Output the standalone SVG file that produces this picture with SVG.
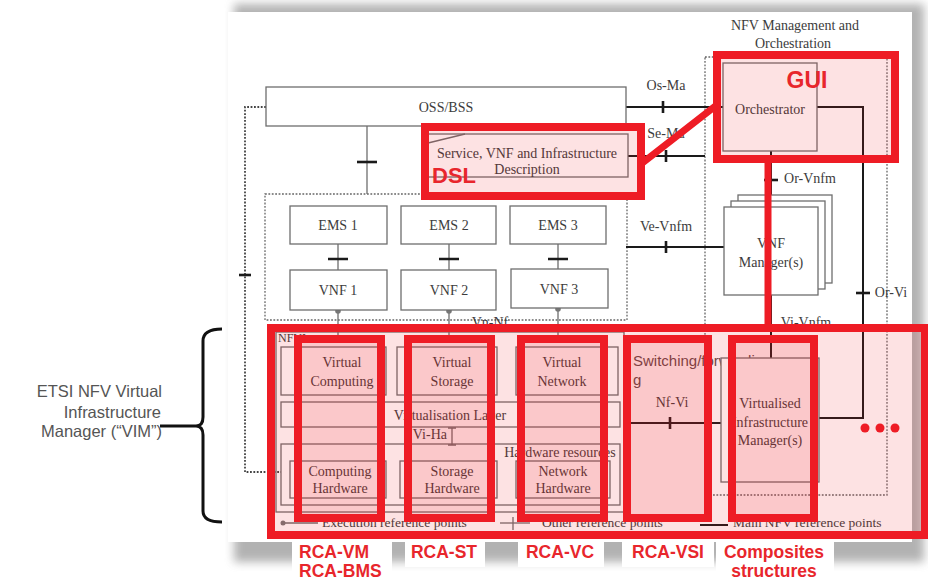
<svg xmlns="http://www.w3.org/2000/svg" width="928" height="583" viewBox="0 0 928 583">
<defs>
<filter id="sh" x="-5%" y="-5%" width="110%" height="110%"><feGaussianBlur stdDeviation="5"/></filter>
<style>
.box{fill:#fff;stroke:#6e6e6e;stroke-width:1.3}
.ob{fill:none;stroke:#6e6e6e;stroke-width:1.3}
.dot{fill:none;stroke:#444;stroke-width:1.8;stroke-dasharray:1.8 1.6}
.t{font-family:"Liberation Serif","Times New Roman",serif;font-size:14px;fill:#3c3c3c;text-anchor:middle}
.ts{font-family:"Liberation Serif","Times New Roman",serif;font-size:13.5px;fill:#3c3c3c}
.ln{stroke:#1a1a1a;stroke-width:2;fill:none}
.gl{stroke:#6e6e6e;stroke-width:1.3;fill:none}
.tk{stroke:#1a1a1a;stroke-width:2.6}
.red{fill:rgba(240,30,36,0.13);stroke:#ee1c25;stroke-width:8}
.rl{font-family:"Liberation Sans",Arial,sans-serif;font-weight:bold;font-size:17.5px;fill:#e8262c}
.lt{font-family:"Liberation Sans",Arial,sans-serif;font-size:16.5px;fill:#555;text-anchor:end}
.sw{font-family:"Liberation Sans",Arial,sans-serif;font-size:15px;fill:#5e4c4c}
</style>
</defs>
<rect width="928" height="583" fill="#fff"/>
<g id="paper">
<rect x="234" y="4" width="690" height="558" fill="#808080" opacity="0.6" filter="url(#sh)"/>
<rect x="228" y="12" width="684" height="530" fill="#fff"/>
<rect x="292" y="541" width="100" height="42" fill="#fff"/>
<rect x="405" y="541" width="80" height="26" fill="#fff"/>
<rect x="518" y="541" width="86" height="26" fill="#fff"/>
<rect x="622" y="541" width="92" height="26" fill="#fff"/>
<rect x="716" y="541" width="118" height="42" fill="#fff"/>
</g>
<g id="vim-label">
<text class="lt" x="162" y="397">ETSI NFV Virtual</text>
<text class="lt" x="161" y="418">Infrastructure</text>
<text class="lt" x="162" y="437">Manager (“VIM”)</text>
<path d="M222,329 Q203,329 203,341 L203,417 Q203,426 196,426 Q203,426 203,435 L203,511 Q203,522 222,522 M160,426 H197" fill="none" stroke="#111" stroke-width="3"/>
</g>
<g id="containers">
<rect class="dot" x="705" y="57" width="182" height="438" style="stroke-width:1.3;stroke:#666"/>
<rect class="dot" x="265" y="194" width="362" height="126" style="stroke-width:1.3;stroke:#666"/>
<text class="t" x="795" y="30">NFV Management and</text>
<text class="t" x="793" y="48">Orchestration</text>
</g>
<g id="connectors">
<path class="dot" d="M266,107 H245 V472 H281"/>
<path class="tk" d="M239,275 H251"/>
<path class="ln" d="M626,107 H723"/><path class="tk" d="M663,101 V113"/>
<path class="ln" d="M628,156 H705"/><path class="tk" d="M666,150 V162"/>
<path class="ln" d="M626,247 H724"/><path class="tk" d="M666,241 V253"/>
<path class="ln" d="M817,107 H863 V418 H819"/><path class="tk" d="M856,293 H870"/>
<path class="ln" d="M771,151 V195"/><path class="tk" d="M764,180 H778"/>
<path class="ln" d="M771,295 V358"/>
<path class="gl" d="M367,126 V194"/><path class="tk" d="M357,162 H377"/>
<path class="gl" d="M338,244 V270 M449,244 V270 M558,244 V269"/>
<path class="tk" d="M328,259 H348 M439,259 H459 M548,259 H568"/>
<path class="gl" d="M338,310 V336 M449,310 V336 M558,308 V336"/>
<circle cx="338" cy="311" r="2.8" fill="#777"/><circle cx="449" cy="311" r="2.8" fill="#777"/><circle cx="558" cy="309" r="2.8" fill="#777"/>
<path class="ln" d="M630,423 H722"/><path class="tk" d="M670,417 V429"/>
<path class="gl" d="M452,428 V445 M448,428 H456 M448,445 H456"/>
<text class="t" x="666" y="90">Os-Ma</text>
<text class="t" x="666" y="138">Se-Ma</text>
<text class="t" x="666" y="231">Ve-Vnfm</text>
<text class="t" x="810" y="183">Or-Vnfm</text>
<text class="t" x="891" y="297">Or-Vi</text>
<text class="t" x="806" y="327">Vi-Vnfm</text>
<text class="t" x="490" y="327">Vn-Nf</text>
<text class="t" x="672" y="407">Nf-Vi</text>
<text class="t" x="447" y="439" style="text-anchor:end">Vi-Ha</text>
</g>
<g id="oss-bss"><rect class="box" x="266" y="87" width="360" height="39"/><text class="t" x="446" y="112">OSS/BSS</text></g>
<g id="service-description"><rect class="box" x="428" y="134" width="200" height="43"/><path class="gl" d="M428,143 L465,134"/><text class="t" x="527" y="158">Service, VNF and Infrastructure</text><text class="t" x="527" y="174">Description</text></g>
<g id="ems1"><rect class="box" x="290" y="206" width="97" height="38"/><text class="t" x="338" y="230">EMS 1</text></g>
<g id="ems2"><rect class="box" x="401" y="206" width="95" height="38"/><text class="t" x="449" y="230">EMS 2</text></g>
<g id="ems3"><rect class="box" x="510" y="206" width="96" height="38"/><text class="t" x="558" y="230">EMS 3</text></g>
<g id="vnf1"><rect class="box" x="290" y="270" width="97" height="40"/><text class="t" x="338" y="295">VNF 1</text></g>
<g id="vnf2"><rect class="box" x="401" y="270" width="95" height="40"/><text class="t" x="449" y="295">VNF 2</text></g>
<g id="vnf3"><rect class="box" x="511" y="269" width="97" height="39"/><text class="t" x="559" y="294">VNF 3</text></g>
<g id="orchestrator"><rect class="box" x="723" y="63" width="94" height="88"/><text class="t" x="770" y="114">Orchestrator</text></g>
<g id="vnf-managers">
<rect class="box" x="738" y="195" width="94" height="88"/>
<rect class="box" x="731" y="201" width="94" height="88"/>
<rect class="box" x="724" y="207" width="94" height="88"/>
<text class="t" x="771" y="248">VNF</text><text class="t" x="771" y="267">Manager(s)</text>
</g>
<g id="nfvi">
<rect class="ob" x="276" y="332" width="348" height="180"/>
<text class="ts" x="278" y="342" style="font-size:12px">NFVI</text>
<rect class="ob" x="281" y="347" width="105" height="48"/><text class="t" x="342" y="367">Virtual</text><text class="t" x="342" y="386">Computing</text>
<rect class="ob" x="397" y="347" width="100" height="48"/><text class="t" x="452" y="367">Virtual</text><text class="t" x="452" y="386">Storage</text>
<rect class="ob" x="516" y="347" width="102" height="48"/><text class="t" x="562" y="367">Virtual</text><text class="t" x="562" y="386">Network</text>
<rect class="ob" x="281" y="402" width="339" height="25"/><text class="t" x="450" y="420">Virtualisation Layer</text>
<rect class="ob" x="281" y="444" width="339" height="61"/><text class="t" x="560" y="457">Hardware resources</text>
<rect class="ob" x="290" y="461" width="96" height="37"/><text class="t" x="340" y="476">Computing</text><text class="t" x="340" y="493">Hardware</text>
<rect class="ob" x="400" y="461" width="97" height="37"/><text class="t" x="452" y="476">Storage</text><text class="t" x="452" y="493">Hardware</text>
<rect class="ob" x="516" y="461" width="94" height="37"/><text class="t" x="563" y="476">Network</text><text class="t" x="563" y="493">Hardware</text>
</g>
<g id="switching"><text class="sw" x="633" y="366">Switching/forwardin</text><text class="sw" x="633" y="385">g</text></g>
<g id="vim"><rect class="box" x="721" y="358" width="98" height="124"/><text class="t" x="770" y="408">Virtualised</text><text class="t" x="770" y="427">Infrastructure</text><text class="t" x="770" y="445">Manager(s)</text></g>
<g id="legend">
<path class="gl" d="M282,523 H318"/><circle cx="283" cy="523" r="2.5" fill="#777"/>
<text class="ts" x="322" y="527">Execution reference points</text>
<path class="gl" d="M500,523 H530"/><path class="gl" d="M513,517 V530"/>
<text class="ts" x="542" y="527">Other reference points</text>
<path class="ln" d="M700,525 H728"/>
<text class="ts" x="733" y="527">Main NFV reference points</text>
</g>
<g id="overlay">
<rect class="red" x="271" y="328" width="654" height="207"/>
<rect class="red" x="298" y="339" width="83" height="179"/>
<rect class="red" x="408" y="339" width="83" height="179"/>
<rect class="red" x="521" y="339" width="83" height="179"/>
<rect class="red" x="627" y="339" width="81" height="179"/>
<rect class="red" x="732" y="339" width="82" height="179"/>
<rect class="red" x="717" y="55" width="178" height="104"/>
<rect class="red" x="425" y="127" width="216" height="69"/>
<path d="M641,164 L718,104 M768,159 V328" stroke="#ee1c25" stroke-width="7" fill="none"/>
<circle cx="865" cy="428" r="4.5" fill="#ee1c25"/><circle cx="880" cy="428" r="4.5" fill="#ee1c25"/><circle cx="895" cy="428" r="4.5" fill="#ee1c25"/>
<text class="rl" x="807" y="88" style="font-size:23px;text-anchor:middle">GUI</text>
<text class="rl" x="432" y="183" style="font-size:22px">DSL</text>
<text class="rl" x="299" y="558">RCA-VM</text>
<text class="rl" x="299" y="577">RCA-BMS</text>
<text class="rl" x="444" y="558" style="text-anchor:middle">RCA-ST</text>
<text class="rl" x="560" y="558" style="text-anchor:middle">RCA-VC</text>
<text class="rl" x="668" y="558" style="text-anchor:middle">RCA-VSI</text>
<text class="rl" x="774" y="558" style="text-anchor:middle">Composites</text>
<text class="rl" x="774" y="577" style="text-anchor:middle">structures</text>
</g>
</svg>
